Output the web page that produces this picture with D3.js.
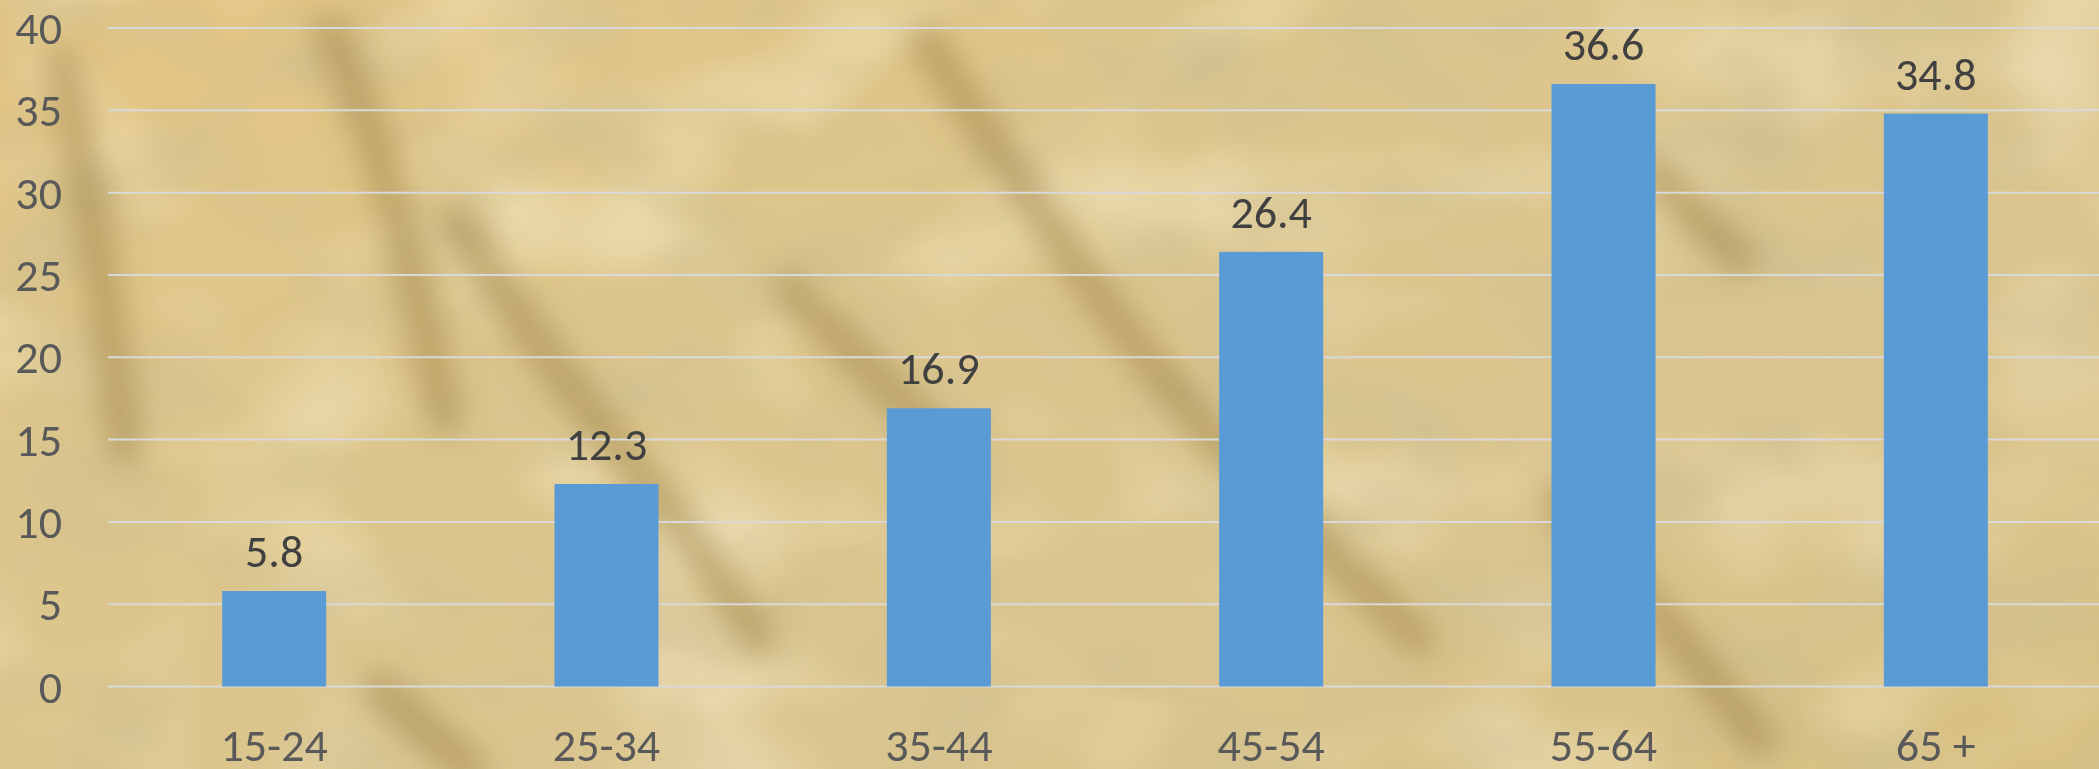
<!DOCTYPE html>
<html>
<head>
<meta charset="utf-8">
<script src="https://cdn.jsdelivr.net/npm/d3@7"></script>
<style>
  html, body { margin: 0; padding: 0; background: #dcc68a; overflow: hidden; }
  svg { display: block; }
</style>
</head>
<body>
<div id="chart"></div>
<script>
// Age groups and their values
const categories = ['15-24', '25-34', '35-44', '45-54', '55-64', '65 +'];
const values = [5.8, 12.3, 16.9, 26.4, 36.6, 34.8];
const yTicks = [0, 5, 10, 15, 20, 25, 30, 35, 40];

const width = 2099;
const height = 769;
const plot = { left: 108, right: 2102, top: 28, bottom: 686.5 };
const fontFamily = "Carlito, Calibri, Lato, sans-serif";
const fontSize = "46px";

const svg = d3.select("#chart").append("svg")
    .attr("width", width)
    .attr("height", height);

const defs = svg.append("defs");

// ---- background texture ----
const grad = defs.append("linearGradient")
    .attr("id", "bgGrad")
    .attr("x1", "0").attr("y1", "0").attr("x2", "1").attr("y2", "1");
grad.append("stop").attr("offset", "0%").attr("stop-color", "#e4c583");
grad.append("stop").attr("offset", "30%").attr("stop-color", "#ddc68b");
grad.append("stop").attr("offset", "70%").attr("stop-color", "#dac58f");
grad.append("stop").attr("offset", "100%").attr("stop-color", "#d8c081");

const noise = defs.append("filter").attr("id", "noise")
    .attr("x", 0).attr("y", 0).attr("width", "100%").attr("height", "100%");
noise.append("feTurbulence")
    .attr("type", "fractalNoise")
    .attr("baseFrequency", "0.006 0.009")
    .attr("numOctaves", 3)
    .attr("seed", 7)
    .attr("result", "turb");
noise.append("feColorMatrix")
    .attr("in", "turb")
    .attr("type", "matrix")
    .attr("values", "0 0 0 0 0.62  0 0 0 0 0.52  0 0 0 0 0.28  1.8 0 0 0 -0.8");

const noiseLight = defs.append("filter").attr("id", "noiseLight")
    .attr("x", 0).attr("y", 0).attr("width", "100%").attr("height", "100%");
noiseLight.append("feTurbulence")
    .attr("type", "fractalNoise")
    .attr("baseFrequency", "0.005 0.007")
    .attr("numOctaves", 2)
    .attr("seed", 19)
    .attr("result", "turb");
noiseLight.append("feColorMatrix")
    .attr("in", "turb")
    .attr("type", "matrix")
    .attr("values", "0 0 0 0 0.95  0 0 0 0 0.87  0 0 0 0 0.63  0 1.4 0 0 -0.68");

defs.append("filter").attr("id", "blur")
    .attr("x", "-50%").attr("y", "-50%").attr("width", "200%").attr("height", "200%")
    .append("feGaussianBlur").attr("stdDeviation", 15);

const bg = svg.append("g");
bg.append("rect").attr("width", width).attr("height", height).attr("fill", "url(#bgGrad)");
bg.append("rect").attr("width", width).attr("height", height).attr("filter", "url(#noiseLight)");
bg.append("rect").attr("width", width).attr("height", height).attr("filter", "url(#noise)");

// dark diagonal streaks of the backdrop photo
const streaks = [
    [[925, 40], [1010, 170], [1120, 330], [1240, 470], [1420, 640]],
    [[330, 30], [380, 150], [420, 300], [445, 420]],
    [[455, 220], [560, 380], [680, 520], [760, 640]],
    [[790, 290], [900, 400], [960, 460]],
    [[1650, 170], [1740, 260]],
    [[60, 60], [100, 250], [125, 450]],
    [[1560, 500], [1680, 640], [1760, 740]],
    [[380, 690], [470, 769]]
];
bg.append("g")
    .attr("filter", "url(#blur)")
    .selectAll("path")
    .data(streaks)
    .join("path")
    .attr("d", d3.line().curve(d3.curveBasis))
    .attr("fill", "none")
    .attr("stroke", "#9a8040")
    .attr("stroke-width", 34)
    .attr("stroke-linecap", "round")
    .attr("opacity", 0.5);

// ---- scales ----
const x = d3.scaleBand()
    .domain(categories)
    .range([plot.left, plot.right])
    .paddingInner(0.687)
    .paddingOuter(0.3435);

const y = d3.scaleLinear()
    .domain([0, 40])
    .range([plot.bottom, plot.top]);

const chart = svg.append("g");

// gridlines
chart.append("g")
    .selectAll("line")
    .data(yTicks)
    .join("line")
    .attr("x1", plot.left)
    .attr("x2", width)
    .attr("y1", d => y(d))
    .attr("y2", d => y(d))
    .attr("stroke", "#d9d9d9")
    .attr("stroke-width", 2);

// y tick labels
chart.append("g")
    .selectAll("text")
    .data(yTicks)
    .join("text")
    .attr("x", 62)
    .attr("y", d => y(d))
    .attr("dy", "0.35em")
    .attr("text-anchor", "end")
    .attr("fill", "#595959")
    .style("font-family", fontFamily)
    .style("font-size", fontSize)
    .text(d => d);

// bars
const rows = categories.map((c, i) => ({ cat: c, value: values[i] }));

chart.append("g")
    .selectAll("rect")
    .data(rows)
    .join("rect")
    .attr("x", d => x(d.cat))
    .attr("y", d => y(d.value))
    .attr("width", x.bandwidth())
    .attr("height", d => y(0) - y(d.value))
    .attr("fill", "#5b9bd5");

// value labels
chart.append("g")
    .selectAll("text")
    .data(rows)
    .join("text")
    .attr("x", d => x(d.cat) + x.bandwidth() / 2)
    .attr("y", d => y(d.value) - 24)
    .attr("text-anchor", "middle")
    .attr("fill", "#404040")
    .style("font-family", fontFamily)
    .style("font-size", fontSize)
    .text(d => d.value.toFixed(1));

// category labels
chart.append("g")
    .selectAll("text")
    .data(categories)
    .join("text")
    .attr("x", d => x(d) + x.bandwidth() / 2)
    .attr("y", 761)
    .attr("text-anchor", "middle")
    .attr("fill", "#595959")
    .style("font-family", fontFamily)
    .style("font-size", fontSize)
    .text(d => d);
</script>
</body>
</html>
